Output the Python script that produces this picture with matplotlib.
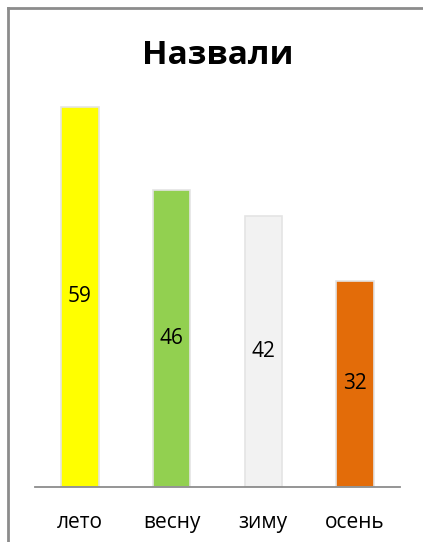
import matplotlib.pyplot as plt
from matplotlib.lines import Line2D

categories = ["лето", "весну", "зиму", "осень"]
values = [59, 46, 42, 32]
colors = ["#FFFF00", "#92D050", "#F2F2F2", "#E36C09"]

plt.rcParams['font.family'] = ['Open Sans', 'DejaVu Sans']

fig = plt.figure(figsize=(4.23, 5.42), dpi=100)
W, H = 423, 542
# axes in pixel coords: x 35..400, y baseline 487, top 68
ax = fig.add_axes([35 / W, 1 - 487 / H, 365 / W, (487 - 68) / H])

x = range(len(categories))
bars = ax.bar(x, values, width=0.41, color=colors, edgecolor="#E4E4E4", linewidth=1.2, zorder=2)
for b, v in zip(bars, values):
    ax.text(b.get_x() + b.get_width() / 2, v / 2, str(v), ha="center", va="center",
            fontsize=15, color="black")

ax.set_xlim(-0.49, 3.49)
ax.set_ylim(0, 65)
ax.set_yticks([])
ax.set_xticks(list(x))
ax.set_xticklabels(categories, fontsize=15)
ax.tick_params(axis="x", length=0, pad=18)
for s in ["top", "right", "left"]:
    ax.spines[s].set_visible(False)
ax.spines["bottom"].set_color("#8C8C8C")
ax.spines["bottom"].set_linewidth(1.3)

fig.text(218 / W, 1 - 56 / H, "Назвали", ha="center", va="center", fontsize=24, fontweight="bold")

# frame: top and left border only
fig.add_artist(Line2D([8 / W, 1], [1 - 8 / H, 1 - 8 / H], color="#8C8C8C", linewidth=2))
fig.add_artist(Line2D([8 / W, 8 / W], [0, 1 - 8 / H], color="#8C8C8C", linewidth=2))

fig.savefig("out.png", dpi=100)
